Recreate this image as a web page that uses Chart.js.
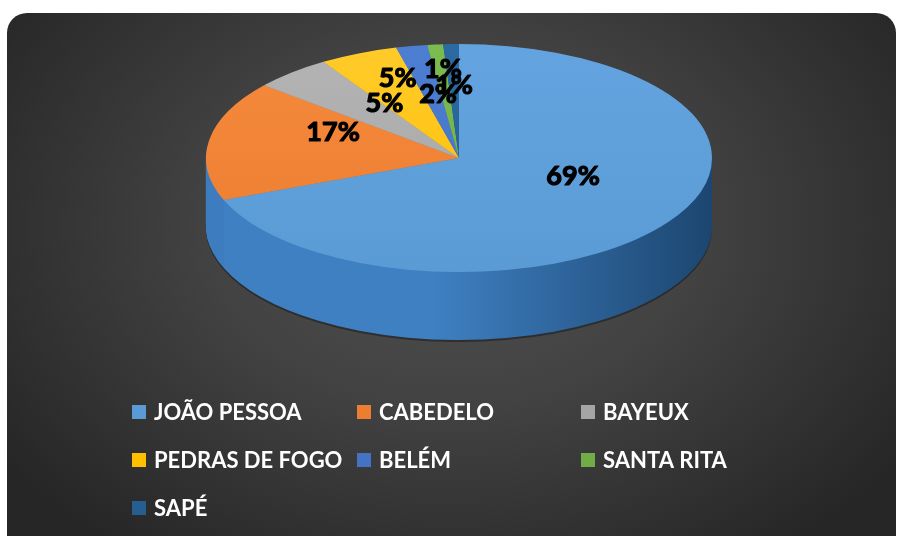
<!DOCTYPE html>
<html>
<head>
<meta charset="utf-8">
<script src="https://cdn.jsdelivr.net/npm/chart.js@4.4.1/dist/chart.umd.min.js"></script>
<style>
html, body { margin: 0; padding: 0; background: #fff; overflow: hidden; }
#bg {
    position: absolute; left: 7px; top: 13px; width: 889px; height: 560px;
    border-radius: 20px;
    background: radial-gradient(ellipse 62% 72% at 50% 38%, #515151 0%, #424242 45%, #262626 100%);
}
#wrap { position: absolute; left: 0; top: 0; width: 897px; height: 536px; }
</style>
</head>
<body>
<div id="bg"></div>
<div id="wrap"><canvas id="myChart" width="897" height="536"></canvas></div>
<script>
// data (percent of total)
var cities = ['JOÃO PESSOA', 'CABEDELO', 'BAYEUX', 'PEDRAS DE FOGO', 'BELÉM', 'SANTA RITA', 'SAPÉ'];
var shares = [69, 17, 5, 5, 2, 1, 1];

var faceColors = ['#5b9bd5', '#ed7d31', '#a5a5a5', '#ffc000', '#4472c4', '#70ad47', '#255e91'];
var faceLight  = ['#63a4e0', '#f58a3c', '#b4b4b4', '#ffcb2a', '#4d7ed2', '#7bbb50', '#2d6aa2'];
// the original is seen in perspective, so only the blue slice shows its wall at the front/left
var sideLight  = ['#3f80c2', '#3d7dbf', '#858585', '#cc9a00', '#345ca3', '#5a8c38', '#1c4a73'];
var sideDark   = ['#1c4670', '#1c4670', '#5c5c5c', '#8c6a00', '#223e70', '#3d6026', '#11304c'];

// where the 3d pie sits and how labels are pushed out along each slice
var ELL = { cx: 459, cy: 158, rx: 253, ry: 114, depth: 68 };
var labelOrigin = { x: 458, y: 141 };
var labelRadius = [0.55, 0.5, 0.44, 0.6, 0.42, 0.63, 0.49];
var legendCols = [132, 357, 581];
var legendRows = [412, 460, 508];

var pie3d = {
    id: 'pie3d',
    beforeDatasetsDraw: function(chart) {
        var ctx = chart.ctx;
        var arcs = chart.getDatasetMeta(0).data;
        var r = arcs[0].outerRadius, ox = arcs[0].x, oy = arcs[0].y;

        function place(dy) {
            ctx.translate(ELL.cx, ELL.cy + dy);
            ctx.scale(ELL.rx / r, ELL.ry / r);
            ctx.translate(-ox, -oy);
        }
        function ux(X) { return ox + (X - ELL.cx) * r / ELL.rx; }
        function uy(Y) { return oy + (Y - ELL.cy) * r / ELL.ry; }
        function drawWith(el, fill) {
            var o = el.options;
            el.options = Object.assign({}, o, { backgroundColor: fill, borderWidth: 0 });
            el.draw(ctx);
            el.options = o;
        }

        var sides = arcs.map(function(el, i) {
            var g = ctx.createLinearGradient(ux(ELL.cx - ELL.rx), 0, ux(ELL.cx + ELL.rx), 0);
            g.addColorStop(0, sideLight[i]);
            g.addColorStop(0.45, sideLight[i]);
            g.addColorStop(1, sideDark[i]);
            return g;
        });
        var faces = arcs.map(function(el, i) {
            var g = ctx.createLinearGradient(0, uy(ELL.cy - ELL.ry), 0, uy(ELL.cy + ELL.ry));
            g.addColorStop(0, faceLight[i]);
            g.addColorStop(1, faceColors[i]);
            return g;
        });

        // soft shadow under the rim
        ctx.save();
        place(ELL.depth + 2);
        arcs.forEach(function(el) { drawWith(el, 'rgba(15,15,15,0.45)'); });
        ctx.restore();

        for (var d = ELL.depth; d > 0; d--) {
            ctx.save();
            place(d);
            arcs.forEach(function(el, i) { drawWith(el, sides[i]); });
            ctx.restore();
        }

        ctx.save();
        place(0);
        arcs.forEach(function(el, i) { drawWith(el, faces[i]); });
        ctx.restore();
        return false;
    },
    afterDraw: function(chart) {
        var ctx = chart.ctx;
        var arcs = chart.getDatasetMeta(0).data;
        var total = shares.reduce(function(a, b) { return a + b; }, 0);

        ctx.save();
        ctx.font = 'bold 27px Lato';
        ctx.fillStyle = '#000';
        ctx.strokeStyle = '#000';
        ctx.lineWidth = 1.2;
        ctx.lineJoin = 'round';
        ctx.textAlign = 'center';
        ctx.textBaseline = 'middle';
        arcs.forEach(function(el, i) {
            var mid = (el.startAngle + el.endAngle) / 2;
            var f = labelRadius[i];
            var txt = Math.round(shares[i] / total * 100) + '%';
            var x = labelOrigin.x + Math.cos(mid) * ELL.rx * f;
            var y = labelOrigin.y + Math.sin(mid) * ELL.ry * f;
            ctx.fillText(txt, x, y);
            ctx.strokeText(txt, x, y);
        });

        // legend, three columns like the original
        ctx.font = 'bold 22px Lato';
        ctx.textAlign = 'left';
        cities.forEach(function(c, i) {
            var x = legendCols[i % 3], y = legendRows[Math.floor(i / 3)];
            ctx.fillStyle = faceColors[i];
            ctx.fillRect(x, y - 7, 14, 14);
            ctx.fillStyle = '#fff';
            ctx.fillText(c, x + 22, y + 1);
        });
        ctx.restore();
    }
};

var myChart;
var loadChart = function() {
    var ctx = document.getElementById('myChart');
    myChart = new Chart(ctx, {
        type: 'pie',
        data: {
            labels: cities,
            datasets: [{
                data: shares,
                backgroundColor: faceColors,
                borderWidth: 0
            }]
        },
        options: {
            responsive: false,
            animation: false,
            layout: { padding: { left: 206, right: 185, top: 40, bottom: 200 } },
            plugins: { legend: { display: false }, tooltip: { enabled: false } }
        },
        plugins: [pie3d]
    });
};
loadChart();
</script>
</body>
</html>
